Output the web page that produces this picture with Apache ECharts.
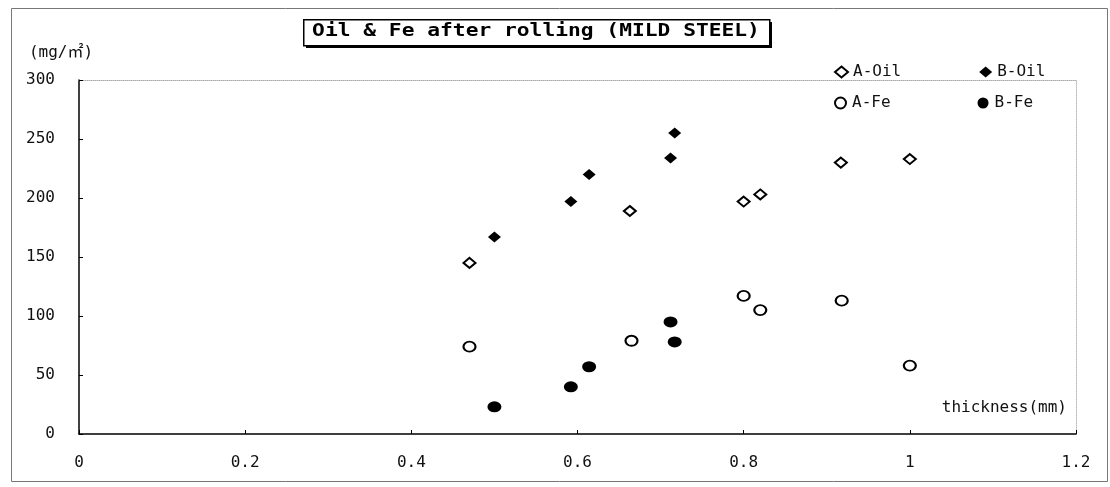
<!DOCTYPE html>
<html>
<head>
<meta charset="utf-8">
<style>
  html, body { margin: 0; padding: 0; background: #fff; }
  #chart { width: 1110px; height: 487px; }
</style>
<script src="https://cdn.jsdelivr.net/npm/echarts@6/dist/echarts.min.js"></script>
</head>
<body>
<div id="chart"></div>
<script>
// ---- data ----
const titleText = 'Oil & Fe after rolling (MILD STEEL)';
const xAxisName = 'thickness(mm)';
const yAxisName = '(mg/㎡)';
const seriesNames = ['A-Oil', 'B-Oil', 'A-Fe', 'B-Fe'];

const aOilX = [0.470, 0.663, 0.800, 0.820, 0.917, 1.000];
const aOilY = [145, 189, 197, 203, 230, 233];

const bOilX = [0.500, 0.592, 0.614, 0.712, 0.717];
const bOilY = [167, 197, 220, 234, 255];

const aFeX = [0.470, 0.665, 0.800, 0.820, 0.918, 1.000];
const aFeY = [74, 79, 117, 105, 113, 58];

const bFeX = [0.500, 0.592, 0.614, 0.712, 0.717];
const bFeY = [23, 40, 57, 95, 78];

const xMin = 0, xMax = 1.2, xStep = 0.2;
const yMin = 0, yMax = 300, yStep = 50;

function pairs(xs, ys) { return xs.map((x, i) => [x, ys[i]]); }

const MONO = '"DejaVu Sans Mono", "Liberation Mono", "Noto Sans CJK JP", monospace';

const hollow = { color: '#fff', borderColor: '#000', borderWidth: 2, opacity: 1 };
const filled = { color: '#000', borderColor: '#000', borderWidth: 0, opacity: 1 };

const chart = echarts.init(document.getElementById('chart'), null, { renderer: 'canvas' });

const legendText = { fontFamily: MONO, fontSize: 16, color: '#111' };

chart.setOption({
  animation: false,
  backgroundColor: '#fff',
  grid: { left: 79, right: 34, top: 80, bottom: 53, containLabel: false },
  legend: [
    {
      data: [seriesNames[0], seriesNames[1]],
      left: 834, top: 64, itemGap: 78, itemWidth: 13, itemHeight: 11,
      textStyle: legendText, padding: 0
    },
    {
      data: [seriesNames[2], seriesNames[3]],
      left: 834, top: 95, itemGap: 87, itemWidth: 13, itemHeight: 11,
      textStyle: legendText, padding: 0
    }
  ],
  xAxis: [
    {
      type: 'value', min: xMin, max: xMax, interval: xStep,
      name: xAxisName, nameLocation: 'end', nameGap: 0,
      nameTextStyle: { fontFamily: MONO, fontSize: 16, color: '#111', align: 'right', verticalAlign: 'bottom', padding: [0, 9, 18, 0] },
      axisLine: { show: true, lineStyle: { color: '#000', width: 1.5 } },
      axisTick: { show: true, inside: true, length: 4, lineStyle: { color: '#000' } },
      axisLabel: { fontFamily: MONO, fontSize: 16, color: '#111', margin: 21 },
      splitLine: { show: false }
    },
    {
      type: 'value', min: xMin, max: xMax, position: 'top',
      axisLine: { show: true, onZero: false, lineStyle: { color: '#aaa', width: 1, type: 'dotted' } },
      axisTick: { show: false }, axisLabel: { show: false }, splitLine: { show: false }
    }
  ],
  yAxis: [
    {
      type: 'value', min: yMin, max: yMax, interval: yStep,
      name: yAxisName, nameLocation: 'end', nameGap: 19,
      nameTextStyle: { fontFamily: MONO, fontSize: 16, color: '#111', align: 'center', verticalAlign: 'bottom', padding: [0, 36, 0, 0] },
      axisLine: { show: true, lineStyle: { color: '#000', width: 1.5 } },
      axisTick: { show: true, inside: true, length: 4, lineStyle: { color: '#000' } },
      axisLabel: { fontFamily: MONO, fontSize: 16, color: '#111', margin: 24 },
      splitLine: { show: false }
    },
    {
      type: 'value', min: yMin, max: yMax, position: 'right',
      axisLine: { show: true, onZero: false, lineStyle: { color: '#bbb', width: 1, type: 'dotted' } },
      axisTick: { show: false }, axisLabel: { show: false }, splitLine: { show: false }
    }
  ],
  series: [
    { name: seriesNames[0], type: 'scatter', symbol: 'diamond', symbolSize: [12, 10], itemStyle: hollow, data: pairs(aOilX, aOilY), z: 3 },
    { name: seriesNames[1], type: 'scatter', symbol: 'diamond', symbolSize: [13, 11], itemStyle: filled, data: pairs(bOilX, bOilY), z: 3 },
    { name: seriesNames[2], type: 'scatter', symbol: 'circle', symbolSize: [12, 10], itemStyle: hollow, data: pairs(aFeX, aFeY), z: 3 },
    { name: seriesNames[3], type: 'scatter', symbol: 'circle', symbolSize: [14, 11], itemStyle: filled, data: pairs(bFeX, bFeY), z: 3 }
  ],
  graphic: [
    // outer frame
    { type: 'rect', left: 9, top: 6, shape: { width: 1096, height: 473 }, style: { fill: 'none', stroke: '#777', lineWidth: 1 }, silent: true, z: 0 },
    // title box with drop shadow
    { type: 'rect', left: 306, top: 22, shape: { width: 466, height: 26 }, style: { fill: '#000' }, silent: true, z: 10 },
    { type: 'rect', left: 303, top: 19, shape: { width: 466, height: 26 }, style: { fill: '#fff', stroke: '#000', lineWidth: 1.5 }, silent: true, z: 11 },
    {
      type: 'text', x: 536, y: 32, scaleX: 1.25, z: 12, silent: true,
      style: { text: titleText, fontFamily: MONO, fontSize: 17, fontWeight: 'bold', fill: '#000', align: 'center', verticalAlign: 'middle' }
    }
  ]
});
</script>
</body>
</html>
